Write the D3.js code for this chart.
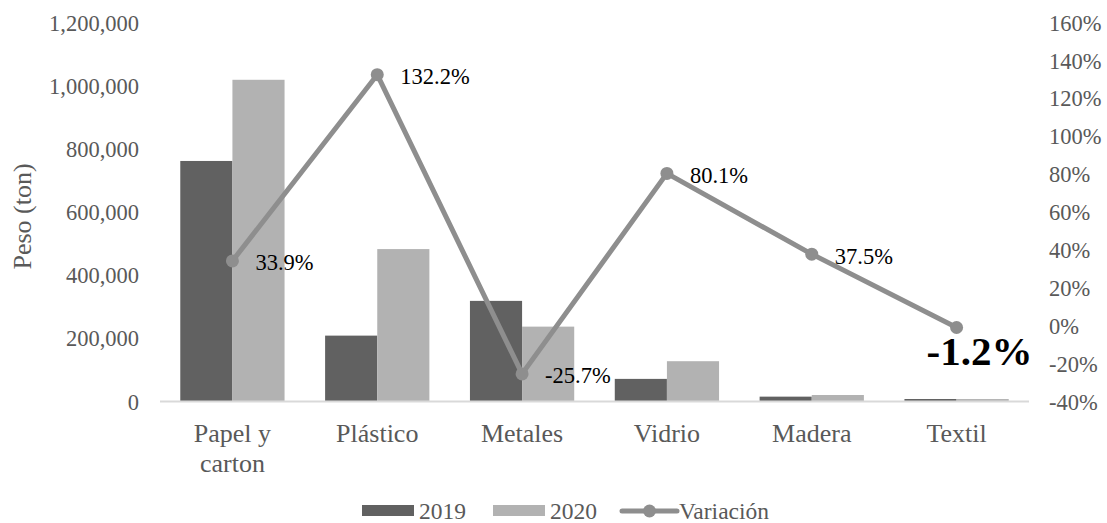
<!DOCTYPE html>
<html>
<head>
<meta charset="utf-8">
<script src="https://cdn.jsdelivr.net/npm/d3@7"></script>
<style>
  html, body { margin: 0; padding: 0; background: #fff; }
  svg { display: block; font-family: "Liberation Serif", "Times New Roman", serif; }
</style>
</head>
<body>
<svg id="chart" width="1107" height="523"></svg>
<script>
// ---- data ----
const categories = ["Papel y carton", "Plástico", "Metales", "Vidrio", "Madera", "Textil"];
const seriesNames = ["2019", "2020"];
const values2019 = [760000, 207000, 317000, 70000, 13800, 6300];
const values2020 = [1017000, 481000, 235500, 126000, 19000, 6200];
const variacion = [33.9, 132.2, -25.7, 80.1, 37.5, -1.2];
const lineName = "Variación";
const leftTicks = [0, 200000, 400000, 600000, 800000, 1000000, 1200000];
const rightTicks = [-40, -20, 0, 20, 40, 60, 80, 100, 120, 140, 160];
const yTitle = "Peso (ton)";

// ---- layout ----
const svg = d3.select("#chart");
const plot = { left: 160, right: 1029, top: 22, bottom: 401 };
const colors = { "2019": "#616161", "2020": "#b2b2b2", line: "#8e8e8e", text: "#595959", axis: "#d9d9d9" };

const x0 = d3.scaleBand().domain(categories).range([plot.left, plot.right])
  .paddingInner(0.28).paddingOuter(0.14);
const x1 = d3.scaleBand().domain(seriesNames).range([0, x0.bandwidth()]).padding(0);
const yL = d3.scaleLinear().domain([0, 1200000]).range([plot.bottom, plot.top]);
const yR = d3.scaleLinear().domain([-40, 160]).range([plot.bottom, plot.top]);

const rows = categories.map((c, i) => ({ cat: c, "2019": values2019[i], "2020": values2020[i], v: variacion[i] }));

// bars
const g = svg.append("g");
g.selectAll("g.grp").data(rows).join("g").attr("class", "grp")
  .attr("transform", d => `translate(${x0(d.cat)},0)`)
  .selectAll("rect").data(d => seriesNames.map(s => ({ s, val: d[s] })))
  .join("rect")
  .attr("x", d => x1(d.s))
  .attr("width", x1.bandwidth())
  .attr("y", d => yL(d.val))
  .attr("height", d => yL(0) - yL(d.val))
  .attr("fill", d => colors[d.s]);

// x axis line
svg.append("line")
  .attr("x1", plot.left).attr("x2", plot.right)
  .attr("y1", yL(0) + 0.5).attr("y2", yL(0) + 0.5)
  .attr("stroke", colors.axis).attr("stroke-width", 2);

// left axis
const leftAxis = d3.axisLeft(yL).tickValues(leftTicks).tickFormat(d3.format(",")).tickSize(0).tickPadding(0);
const gl = svg.append("g").attr("transform", "translate(139,0)").call(leftAxis);
gl.select(".domain").remove();
gl.selectAll("text").attr("font-size", 22.5).attr("fill", colors.text)
  .attr("font-family", "Liberation Serif").attr("dy", "0.36em");

// right axis
const rightAxis = d3.axisRight(yR).tickValues(rightTicks).tickFormat(d => d + "%").tickSize(0).tickPadding(0);
const gr = svg.append("g").attr("transform", "translate(1049,0)").call(rightAxis);
gr.select(".domain").remove();
gr.selectAll("text").attr("font-size", 22.5).attr("fill", colors.text)
  .attr("font-family", "Liberation Serif").attr("dy", "0.36em");

// category labels with wrapping
const catG = svg.append("g");
catG.selectAll("text").data(categories).join("text")
  .attr("x", d => x0(d) + x0.bandwidth() / 2)
  .attr("y", 442)
  .attr("text-anchor", "middle")
  .attr("font-size", 26)
  .attr("fill", colors.text)
  .each(function(d) {
    const t = d3.select(this);
    const words = d.split(" ");
    let line = [], lines = [];
    const tmp = t.append("tspan");
    words.forEach(w => {
      line.push(w);
      tmp.text(line.join(" "));
      if (tmp.node().getComputedTextLength() > 120 && line.length > 1) {
        line.pop();
        lines.push(line.join(" "));
        line = [w];
      }
    });
    lines.push(line.join(" "));
    tmp.remove();
    lines.forEach((l, i) => {
      t.append("tspan").attr("x", x0(d) + x0.bandwidth() / 2).attr("dy", i === 0 ? 0 : 30).text(l);
    });
  });

// y title
svg.append("text")
  .attr("transform", `translate(31,${(plot.top + plot.bottom) / 2 + 5}) rotate(-90)`)
  .attr("text-anchor", "middle")
  .attr("font-size", 26)
  .attr("fill", colors.text)
  .text(yTitle);

// line series
const cx = d => x0(d.cat) + x0.bandwidth() / 2;
svg.append("path")
  .datum(rows)
  .attr("fill", "none")
  .attr("stroke", colors.line)
  .attr("stroke-width", 5)
  .attr("stroke-linejoin", "round")
  .attr("d", d3.line().x(cx).y(d => yR(d.v)));
svg.append("g").selectAll("circle").data(rows).join("circle")
  .attr("cx", cx).attr("cy", d => yR(d.v)).attr("r", 6.5)
  .attr("fill", colors.line);

// data labels
const fmt = d => d3.format(".1f")(d).replace("\u2212", "-") + "%";
svg.append("g").selectAll("text").data(rows).join("text")
  .attr("x", (d, i) => i === rows.length - 1 ? cx(d) - 30 : cx(d) + 23)
  .attr("y", (d, i) => i === rows.length - 1 ? yR(d.v) + 38 : yR(d.v) + 9.5)
  .attr("font-size", (d, i) => i === rows.length - 1 ? 41 : 22.5)
  .attr("font-weight", (d, i) => i === rows.length - 1 ? "bold" : "normal")
  .attr("fill", "#000")
  .text(d => fmt(d.v));

// legend
const lg = svg.append("g");
const legY = 511;
lg.append("rect").attr("x", 362).attr("y", legY - 6).attr("width", 52).attr("height", 11).attr("fill", colors["2019"]);
lg.append("text").attr("x", 419).attr("y", legY + 8).attr("font-size", 23.5).attr("fill", colors.text).text(seriesNames[0]);
lg.append("rect").attr("x", 493).attr("y", legY - 6).attr("width", 52).attr("height", 11).attr("fill", colors["2020"]);
lg.append("text").attr("x", 550).attr("y", legY + 8).attr("font-size", 23.5).attr("fill", colors.text).text(seriesNames[1]);
lg.append("line").attr("x1", 622).attr("x2", 677).attr("y1", legY).attr("y2", legY)
  .attr("stroke", colors.line).attr("stroke-width", 5).attr("stroke-linecap", "round");
lg.append("circle").attr("cx", 649.5).attr("cy", legY).attr("r", 6.5).attr("fill", colors.line);
lg.append("text").attr("x", 679).attr("y", legY + 8).attr("font-size", 23.5).attr("fill", colors.text).text(lineName);
</script>
</body>
</html>
